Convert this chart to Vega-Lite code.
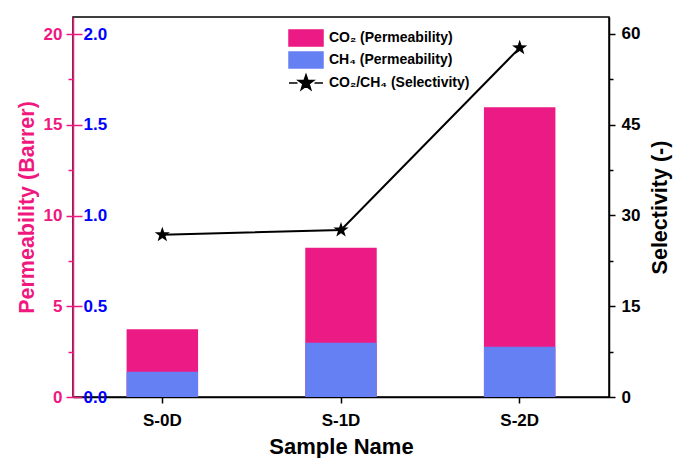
{
  "$schema": "https://vega.github.io/schema/vega-lite/v6.json",
  "width": 536,
  "height": 380,
  "autosize": {"type": "none"},
  "padding": {"left": 73, "top": 17, "right": 66, "bottom": 61},
  "background": "white",
  "config": {
    "view": {"stroke": "black", "strokeWidth": 1.5},
    "font": "Liberation Sans",
    "axis": {"grid": false, "labelFont": "Liberation Sans", "labelFontWeight": "bold", "titleFont": "Liberation Sans", "titleFontWeight": "bold", "domainWidth": 1.5, "tickWidth": 1.5}
  },
  "data": {
    "values": [
      {"sample": "S-0D", "series": "CO₂ (Permeability)", "value": 3.73},
      {"sample": "S-1D", "series": "CO₂ (Permeability)", "value": 8.23},
      {"sample": "S-2D", "series": "CO₂ (Permeability)", "value": 15.96},
      {"sample": "S-0D", "series": "CH₄ (Permeability)", "value": 0.139},
      {"sample": "S-1D", "series": "CH₄ (Permeability)", "value": 0.299},
      {"sample": "S-2D", "series": "CH₄ (Permeability)", "value": 0.277},
      {"sample": "S-0D", "series": "CO₂/CH₄ (Selectivity)", "value": 26.8},
      {"sample": "S-1D", "series": "CO₂/CH₄ (Selectivity)", "value": 27.6},
      {"sample": "S-2D", "series": "CO₂/CH₄ (Selectivity)", "value": 57.7}
    ]
  },
  "encoding": {
    "x": {
      "field": "sample", "type": "nominal", "sort": ["S-0D", "S-1D", "S-2D"],
      "scale": {"paddingInner": 0.6, "paddingOuter": 0.3},
      "axis": {"title": "Sample Name", "labelAngle": 0, "labelFontSize": 17, "titleFontSize": 22, "tickSize": 6, "tickColor": "black", "domainColor": "black", "labelColor": "black", "titleColor": "black", "labelPadding": 9, "titlePadding": 8}
    }
  },
  "layer": [
    {
      "transform": [{"filter": "datum.series == 'CO₂ (Permeability)'"}],
      "mark": {"type": "bar"},
      "encoding": {
        "y": {"field": "value", "type": "quantitative", "scale": {"domain": [0, 20.94], "nice": false},
          "axis": {"orient": "left", "title": "Permeability (Barrer)", "values": [0, 5, 10, 15, 20], "format": "d", "labelColor": "#F0187E", "titleColor": "#F0187E", "domainColor": "#F0187E", "tickColor": "#F0187E", "tickSize": 7, "labelFontSize": 17, "titleFontSize": 21.5, "labelPadding": 4, "titlePadding": 5}},
        "color": {"field": "series", "type": "nominal",
          "scale": {"domain": ["CO₂ (Permeability)", "CH₄ (Permeability)", "CO₂/CH₄ (Selectivity)"], "range": ["#EC1A84", "#6580F2", "black"]},
          "legend": {"title": null, "orient": "none", "legendX": 224, "legendY": 12, "symbolSize": 256, "labelFontSize": 14, "labelFontWeight": "bold", "labelFont": "Liberation Sans", "labelColor": "black", "labelOffset": 14, "rowPadding": 0,
            "encode": {"symbols": {"update": {
              "shape": {"signal": "datum.value == 'CO₂/CH₄ (Selectivity)' ? 'M-2.125,0H-1.06M1.06,0H2.125M0,-1.02L0.238,-0.327L0.971,-0.315L0.385,0.125L0.599,0.825L0,0.404L-0.599,0.825L-0.385,0.125L-0.971,-0.315L-0.238,-0.327Z' : 'M-2.125,-1H2.125V1H-2.125Z'"},
              "fill": {"scale": "color", "field": "value"},
              "stroke": {"scale": "color", "field": "value"},
              "strokeWidth": {"value": 1.5},
              "opacity": {"value": 1}
            }}}}
        }
      }
    },
    {
      "transform": [{"filter": "datum.series == 'CH₄ (Permeability)'"}],
      "mark": {"type": "bar"},
      "encoding": {
        "y": {"field": "value", "type": "quantitative", "scale": {"domain": [0, 2.094], "nice": false},
          "axis": {"orient": "right", "offset": -536, "title": null, "values": [0, 0.5, 1, 1.5, 2], "format": ".1f", "labelColor": "#0000FF", "tickColor": "#F0187E", "tickSize": 9, "domain": false, "labelFontSize": 17, "labelPadding": 1}},
        "color": {"field": "series", "type": "nominal", "legend": null}
      }
    },
    {
      "transform": [{"filter": "datum.series == 'CO₂ (Permeability)'"}],
      "mark": {"type": "point", "opacity": 0},
      "encoding": {
        "y": {"field": "value", "type": "quantitative", "scale": {"domain": [0, 20.94], "nice": false},
          "axis": {"orient": "left", "title": null, "values": [2.5, 7.5, 12.5, 17.5], "labels": false, "domain": false, "tickColor": "#F0187E", "tickSize": 5}}
      }
    },
    {
      "transform": [{"filter": "datum.series == 'CO₂/CH₄ (Selectivity)'"}],
      "mark": {"type": "line", "color": "black", "strokeWidth": 2},
      "encoding": {
        "y": {"field": "value", "type": "quantitative", "scale": {"domain": [0, 62.8], "nice": false},
          "axis": {"orient": "right", "title": "Selectivity (-)", "titleAngle": 270, "titleBaseline": "top", "values": [0, 15, 30, 45, 60], "labelColor": "black", "titleColor": "black", "domainColor": "black", "tickColor": "black", "tickSize": 6, "labelFontSize": 17, "titleFontSize": 21.5, "labelPadding": 6, "titlePadding": 10}}
      }
    },
    {
      "transform": [{"filter": "datum.series == 'CO₂/CH₄ (Selectivity)'"}],
      "mark": {"type": "point", "shape": "M0,-1L0.235,-0.324L0.951,-0.309L0.38,0.124L0.588,0.809L0,0.4L-0.588,0.809L-0.38,0.124L-0.951,-0.309L-0.235,-0.324Z", "filled": true, "color": "black", "opacity": 1, "size": 256},
      "encoding": {
        "y": {"field": "value", "type": "quantitative", "scale": {"domain": [0, 62.8], "nice": false},
          "axis": {"orient": "right", "title": null, "values": [7.5, 22.5, 37.5, 52.5], "labels": false, "domain": false, "tickColor": "black", "tickSize": 4}}
      }
    }
  ],
  "resolve": {"scale": {"y": "independent"}, "axis": {"y": "independent"}}
}
